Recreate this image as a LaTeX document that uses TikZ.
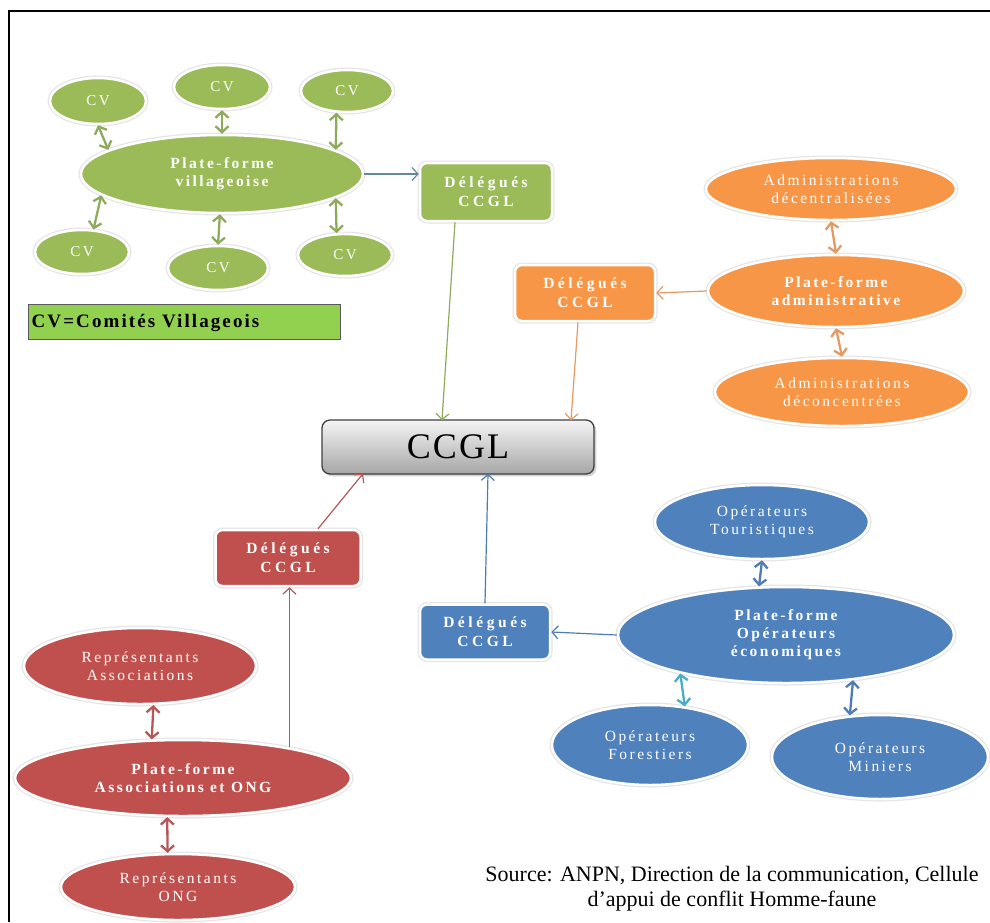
\documentclass[tikz,border=0pt]{standalone}
\usepackage{fontspec}
\setmainfont{Liberation Serif}
\newfontfamily\gsp[LetterSpace=16]{Liberation Serif}
\newfontfamily\gspw[LetterSpace=23]{Liberation Serif}
\newfontfamily\gspl[LetterSpace=11]{Liberation Serif}
\newfontfamily\gspc[LetterSpace=6]{Liberation Serif}
\usetikzlibrary{arrows.meta,shapes.geometric,shadows}
\definecolor{cgreen}{HTML}{9BBB59}
\definecolor{cgreenl}{HTML}{8EAA5C}
\definecolor{corange}{HTML}{F79646}
\definecolor{corangel}{HTML}{E59A62}
\definecolor{cred}{HTML}{C0504D}
\definecolor{credl}{HTML}{B5585A}
\definecolor{cblue}{HTML}{4F81BD}
\definecolor{cbluel}{HTML}{4F7CB5}
\definecolor{cteal}{HTML}{4BACC6}
\definecolor{clegend}{HTML}{92D050}
\tikzset{
  ell/.style={ellipse, inner sep=0pt, text=white, align=center,
    font=\gsp\fontsize{15.5}{18}\selectfont,
    preaction={draw=black!10, line width=5pt}, draw=white, line width=2.5pt},
  pform/.style={ell, font=\gsp\bfseries\fontsize{15.5}{18}\selectfont},
  cvell/.style={ell, font=\gsp\fontsize{15}{17}\selectfont},
  dbox/.style={rectangle, rounded corners=7pt, inner sep=0pt, text=white, align=center,
    font=\gspw\bfseries\fontsize{15.5}{19}\selectfont,
    preaction={draw=black!10, line width=5pt}, draw=white, line width=2.5pt},
  sarr/.style={-{Straight Barb[length=6pt,width=13pt]}, line width=1.2pt},
  darr/.style={{Straight Barb[length=6pt,width=13pt]}-{Straight Barb[length=6pt,width=13pt]}, line width=2.3pt},
}
\begin{document}
\begin{tikzpicture}[x=1pt,y=-1pt]
\useasboundingbox (0,0) rectangle (990,922);
\fill[white] (0,0) rectangle (990,922);
% frame
\draw[line width=1.5pt] (9,922) -- (9,11) -- (990,11);

% ---------- green ----------
\node[cvell, fill=cgreen, minimum width=96pt, minimum height=46pt] (cv1) at (98,101) {CV};
\node[cvell, fill=cgreen, minimum width=96pt, minimum height=44pt] (cv2) at (222,87) {CV};
\node[cvell, fill=cgreen, minimum width=92pt, minimum height=42pt] (cv3) at (347,91) {CV};
\node[pform, fill=cgreen, minimum width=282pt, minimum height=78pt] (pfv) at (222,174) {Plate-forme\\villageoise};
\node[cvell, fill=cgreen, minimum width=94pt, minimum height=44pt] (cv4) at (82,252) {CV};
\node[cvell, fill=cgreen, minimum width=100pt, minimum height=44pt] (cv5) at (218,268) {CV};
\node[cvell, fill=cgreen, minimum width=94pt, minimum height=42pt] (cv6) at (345,255) {CV};
\node[dbox, fill=cgreen, minimum width=132pt, minimum height=58pt] (dgreen) at (486,192) {Délégués\\CCGL};
\node[rectangle, fill=clegend, draw=black!65, line width=1pt, minimum width=312pt, minimum height=35pt, inner sep=0pt] (legend) at (184,322) {};
\node[anchor=west, inner sep=0pt, font=\gspl\bfseries\fontsize{19}{21}\selectfont] (legendtxt) at ([xshift=4pt,yshift=-1pt]legend.west) {CV=Comités Villageois};

\draw[darr, cgreenl] (cv1.south) -- (pfv.168);
\draw[darr, cgreenl] (cv2.south) -- (pfv.north);
\draw[darr, cgreenl] (cv3.244) -- (pfv.12);
\draw[darr, cgreenl] (cv4.63) -- (pfv.190);
\draw[darr, cgreenl] (cv5.north) -- (pfv.-93);
\draw[darr, cgreenl] (cv6.111) -- (pfv.-12);
\draw[sarr, cbluel!70!cgreenl] (pfv.east) -- (dgreen.west |- pfv.east);

% ---------- orange ----------
\node[ell, fill=corange, minimum width=250pt, minimum height=62pt] (adec) at (831,189) {Administrations\\décentralisées};
\node[pform, fill=corange, minimum width=256pt, minimum height=72pt] (pfa) at (836,291) {Plate-forme\\administrative};
\node[ell, fill=corange, minimum width=254pt, minimum height=68pt] (adcon) at (842,392) {Administrations\\déconcentrées};
\node[dbox, fill=corange, minimum width=140pt, minimum height=56pt] (dorange) at (585,293) {Délégués\\CCGL};

\draw[darr, corangel] (adec.south) -- (pfa.north);
\draw[darr, corangel] (pfa.south) -- (adcon.north);
\draw[sarr, corangel] (pfa.west) -- (dorange.east);

% ---------- CCGL ----------
\node[rectangle, rounded corners=8pt, draw=black!75, line width=1.3pt,
  top color=black!4, bottom color=black!35, drop shadow={opacity=0.35},
  minimum width=272pt, minimum height=54pt, inner sep=0pt,
  font=\gspc\fontsize{36}{40}\selectfont] (ccgl) at (458,447) {CCGL};
\draw[sarr, cgreenl] ([xshift=-31pt]dgreen.south) -- ([xshift=-16pt,yshift=-1pt]ccgl.north);
\draw[sarr, corangel] ([xshift=-7pt]dorange.south) -- ([xshift=113pt,yshift=-1pt]ccgl.north);

% ---------- red ----------
\node[dbox, fill=cred, minimum width=145pt, minimum height=56pt] (dred) at (288,558) {Délégués\\CCGL};
\node[ell, fill=cred, minimum width=232pt, minimum height=76pt] (rassoc) at (140,666) {Représentants\\Associations};
\node[pform, fill=cred, minimum width=336pt, minimum height=76pt] (pfr) at (183,778) {Plate-forme\\Associations et ONG};
\node[ell, fill=cred, minimum width=234pt, minimum height=66pt] (rong) at (178,887) {Représentants\\ONG};

\draw[darr, credl] (rassoc.-71) -- (pfr.129);
\draw[darr, credl] (pfr.-112) -- (rong.107);
\draw[sarr, credl] (pfr.16) -- (pfr.16 |- dred.south);
\draw[sarr, credl] ([xshift=30pt]dred.north) -- ([xshift=-95pt,yshift=1pt]ccgl.south);

% ---------- blue ----------
\node[dbox, fill=cblue, minimum width=130pt, minimum height=55pt] (dblue) at (485,632) {Délégués\\CCGL};
\node[ell, fill=cblue, minimum width=214pt, minimum height=74pt] (otour) at (762,522) {Opérateurs\\Touristiques};
\node[pform, fill=cblue, minimum width=336pt, minimum height=96pt] (pfe) at (786,635) {Plate-forme\\Opérateurs\\économiques};
\node[ell, fill=cblue, minimum width=196pt, minimum height=80pt] (ofor) at (650,745) {Opérateurs\\Forestiers};
\node[ell, fill=cblue, minimum width=216pt, minimum height=84pt] (omin) at (880,757) {Opérateurs\\Miniers};

\draw[darr, cbluel] (otour.south) -- (pfe.119);
\draw[darr, cteal] (pfe.200) -- (ofor.48);
\draw[darr, cbluel] (pfe.-34) -- (omin.126);
\draw[sarr, cbluel] (pfe.west) -- (dblue.east);
\draw[sarr, cbluel] (dblue.north) -- ([xshift=30pt,yshift=1pt]ccgl.south);

% ---------- source ----------
\node[align=center, font=\fontsize{22}{25}\selectfont, inner sep=0pt] (source) at (732,889)
  {Source: ANPN, Direction de la communication, Cellule\\d’appui de conflit Homme-faune};
\end{tikzpicture}
\end{document}
